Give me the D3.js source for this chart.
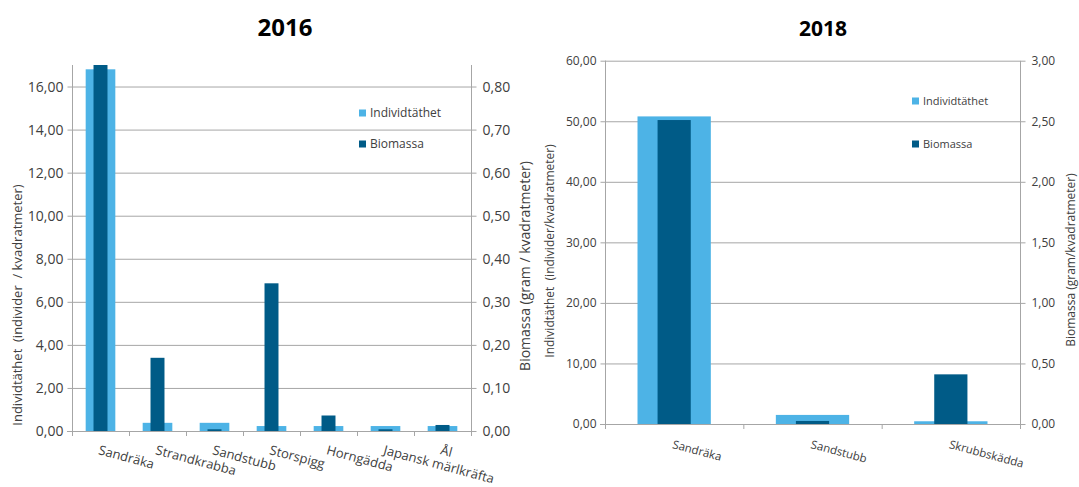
<!DOCTYPE html>
<html><head><meta charset="utf-8">
<script src="https://cdn.jsdelivr.net/npm/d3@7"></script>
<style>
body{margin:0;background:#fff;}
svg{display:block;}
text{font-family:"Open Sans",sans-serif;fill:#404040;white-space:pre;}
</style></head>
<body><svg id="c" width="1079" height="487"></svg>
<script>
const cats2016 = ["Sandräka","Strandkrabba","Sandstubb","Storspigg","Horngädda","Japansk märlkräfta","Ål"];
const ind2016 = [16.8, 0.38, 0.38, 0.23, 0.23, 0.23, 0.23];
const bio2016 = [0.85, 0.17, 0.004, 0.343, 0.036, 0.004, 0.014];
const leftTicks2016 = [0,2,4,6,8,10,12,14,16];
const rightTicks2016 = [0,0.1,0.2,0.3,0.4,0.5,0.6,0.7,0.8];

const cats2018 = ["Sandräka","Sandstubb","Skrubbskädda"];
const ind2018 = [50.8, 1.5, 0.45];
const bio2018 = [2.51, 0.025, 0.41];
const leftTicks2018 = [0,10,20,30,40,50,60];
const rightTicks2018 = [0,0.5,1,1.5,2,2.5,3];

const LIGHT = "#4db3e6", DARK = "#005b87", GRID = "#a6a6a6";
const fmt = v => d3.format(".2f")(v).replace(".", ",");
const svg = d3.select("#c");

function chart(o){
  const g = svg.append("g");
  const x = d3.scaleBand().domain(o.cats).range([o.x0, o.x1]);
  const yL = d3.scaleLinear().domain([0, o.maxL]).range([o.y0, o.y1]);
  const yR = d3.scaleLinear().domain([0, o.maxR]).range([o.y0, o.y1]);
  // gridlines
  g.append("g").selectAll("line").data(o.ticksL.filter(d=>d>0)).join("line")
    .attr("x1", o.x0).attr("x2", o.x1).attr("y1", d=>yL(d)+0.5).attr("y2", d=>yL(d)+0.5)
    .attr("stroke", GRID).attr("stroke-width", 1);
  // bars
  const bw = x.bandwidth();
  g.append("g").selectAll("rect").data(o.ind).join("rect")
    .attr("x", (d,i)=>x(o.cats[i]) + bw*(1-o.wL)/2).attr("width", bw*o.wL)
    .attr("y", d=>yL(d)).attr("height", d=>o.y0 - yL(d)).attr("fill", LIGHT);
  g.append("g").selectAll("rect").data(o.bio).join("rect")
    .attr("x", (d,i)=>x(o.cats[i]) + bw*(1-o.wD)/2).attr("width", bw*o.wD)
    .attr("y", d=>yR(d)).attr("height", d=>o.y0 - yR(d)).attr("fill", DARK);
  // value axes
  const aL = g.append("g").attr("transform", `translate(${o.x0+0.5},0)`)
    .call(d3.axisLeft(yL).tickValues(o.ticksL).tickFormat(fmt).tickSize(5).tickPadding(o.pad));
  const aR = g.append("g").attr("transform", `translate(${o.x1+0.5},0)`)
    .call(d3.axisRight(yR).tickValues(o.ticksR).tickFormat(fmt).tickSize(5).tickPadding(o.pad+2));
  [aL, aR].forEach(a=>{
    a.select(".domain").remove();
    a.append("line").attr("x1",0).attr("x2",0).attr("y1",o.y1).attr("y2",o.y0+5).attr("stroke",GRID);
    a.selectAll(".tick line").attr("stroke", GRID);
    a.selectAll(".tick text").attr("fill","#404040").style("font-size", o.tickFont+"px")
      .style("font-family","'Open Sans',sans-serif");
  });
  // category axis
  g.append("line").attr("x1", o.x0-5).attr("x2", o.x1+5).attr("y1", o.y0+0.5).attr("y2", o.y0+0.5).attr("stroke", GRID);
  const bounds = o.cats.map(c=>x(c)).concat([o.x1]);
  g.append("g").selectAll("line").data(bounds).join("line")
    .attr("x1", d=>d+0.5).attr("x2", d=>d+0.5).attr("y1", o.y0).attr("y2", o.y0+5).attr("stroke", GRID);
  g.append("g").selectAll("text").data(o.cats).join("text")
    .attr("transform", d=>`translate(${x(d)+bw/2},${o.labY}) rotate(15)`)
    .attr("dy","0.8em").style("font-size", o.catFont+"px").text(d=>d);
  // title
  g.append("text").attr("x", o.titleX).attr("y", o.titleY).attr("text-anchor","middle")
    .style("font-size", o.titleFont+"px").style("font-weight","bold").style("fill","#000").text(o.title);
  // legend
  const items = [["Individtäthet", LIGHT, o.legY[0]], ["Biomassa", DARK, o.legY[1]]];
  items.forEach(([t,c,yy])=>{
    g.append("rect").attr("x", o.legX).attr("y", yy-3.5).attr("width",7).attr("height",7).attr("fill",c);
    g.append("text").attr("x", o.legX+11).attr("y", yy).attr("dy","0.35em").style("font-size", o.legFont+"px").text(t);
  });
  // axis titles
  o.axTitles.forEach(a=>{
    g.append("text").attr("transform",`translate(${a.x},${a.y}) rotate(-90)`).attr("text-anchor","middle")
      .attr("dy","0.35em").style("font-size", a.f+"px").text(a.t);
  });
}

chart({cats:cats2016, ind:ind2016, bio:bio2016, ticksL:leftTicks2016, ticksR:rightTicks2016,
  maxL:17, maxR:0.85, x0:72, x1:471, y0:431, y1:65, wL:0.52, wD:0.245, pad:4, tickFont:14, catFont:13, labY:444,
  title:"2016", titleX:285, titleY:36, titleFont:24, legX:359, legY:[113,144], legFont:12,
  axTitles:[{t:"Individtäthet  (individer  / kvadratmeter)", x:17, y:305, f:13},
            {t:"Biomassa (gram / kvadratmeter)", x:525, y:266, f:14}]});

chart({cats:cats2018, ind:ind2018, bio:bio2018, ticksL:leftTicks2018, ticksR:rightTicks2018,
  maxL:60, maxR:3, x0:605, x1:1020, y0:424, y1:60.7, wL:0.53, wD:0.24, pad:4, tickFont:12, catFont:11.5, labY:439,
  title:"2018", titleX:823, titleY:36, titleFont:21, legX:912, legY:[101,144], legFont:11,
  axTitles:[{t:"Individtäthet  (individer/kvadratmeter)", x:550, y:251, f:12},
            {t:"Biomassa (gram/kvadratmeter)", x:1071, y:260, f:12}]});
</script></body></html>
